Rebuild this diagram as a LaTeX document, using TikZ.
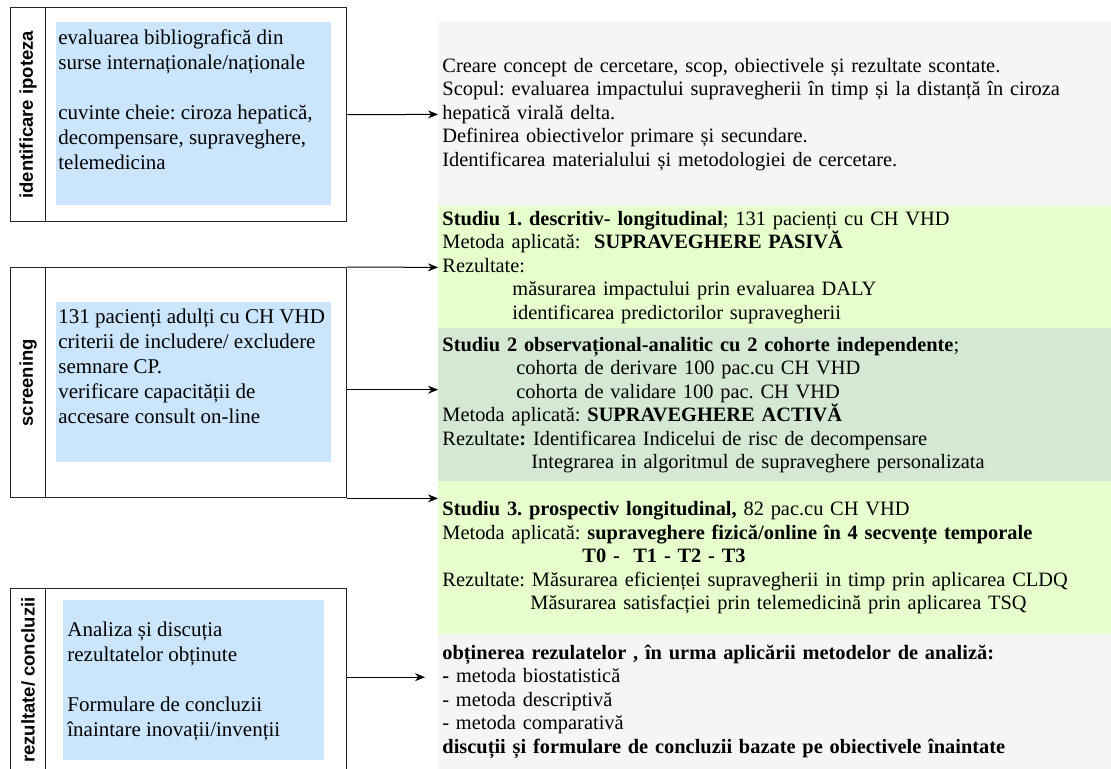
\documentclass[tikz,border=0pt]{standalone}
\usepackage{fontspec}
\setmainfont{Liberation Serif}
\newfontfamily\lblfont{Liberation Sans}
\usetikzlibrary{arrows.meta, positioning}
\frenchspacing

\definecolor{boxblue}{HTML}{CCE5FF}
\definecolor{boxgray}{HTML}{F5F5F5}
\definecolor{boxgreen}{HTML}{E6FFCC}
\definecolor{boxsage}{HTML}{D5E8D4}

\tikzset{
  frame/.style={draw=black!85, line width=0.7pt, inner sep=0pt, anchor=north west},
  lbl/.style={rotate=90, font=\lblfont\bfseries\fontsize{9.25}{11}\selectfont},
  bluebox/.style={fill=boxblue, inner sep=0pt, anchor=north west},
  bluetxt/.style={anchor=north west, inner sep=0pt, align=left, font=\fontsize{10.5}{12.5}\selectfont},
  stage/.style={anchor=north west, inner xsep=2pt, inner ysep=0pt, text width=332.5pt, align=left, font=\fontsize{10.2}{11.75}\selectfont},
  link/.style={-{Stealth[length=5pt,width=4pt]}, line width=0.5pt}
}

\begin{document}
\begin{tikzpicture}[x=0.5pt, y=-0.5pt]
	\useasboundingbox (0,0) rectangle (1111,769);

	% left column
	\node[frame, minimum width=17.5pt, minimum height=107pt] (ipotezaStrip) at (10,7) {};
	\node[frame, minimum width=150.5pt, minimum height=107pt] (ipoteza) at (45,7) {};
	\node[lbl] (ipotezaLbl) at (ipotezaStrip.center) {identificare ipoteza};
	\node[bluebox, minimum width=137.5pt, minimum height=91.5pt] (ipotezaBg) at (56,22) {};
	\node[bluetxt] (ipotezaTxt) at (58,29) {evaluarea bibliografică din\\ surse internaționale/naționale\\[12.5pt] cuvinte cheie: ciroza hepatică,\\ decompensare, supraveghere,\\ telemedicina};

	\node[frame, minimum width=17.5pt, minimum height=115pt] (screeningStrip) at (10,267) {};
	\node[frame, minimum width=150.5pt, minimum height=115pt] (screening) at (45,267) {};
	\node[lbl] (screeningLbl) at (screeningStrip.center) {screening};
	\node[bluebox, minimum width=137.5pt, minimum height=80pt] (screeningBg) at (56,302) {};
	\node[bluetxt] (screeningTxt) at (58,309) {131 pacienți adulți cu CH VHD\\ criterii de includere/ excludere\\ semnare CP.\\ verificare capacității de\\ accesare consult on-line};

	\node[frame, minimum width=17.5pt, minimum height=91.5pt] (concluziiStrip) at (10,588) {};
	\node[frame, minimum width=150.5pt, minimum height=91.5pt] (concluzii) at (45,588) {};
	\node[lbl] (concluziiLbl) at (concluziiStrip.center) {rezultate/ concluzii};
	\node[bluebox, minimum width=130.5pt, minimum height=80pt] (concluziiBg) at (63,600) {};
	\node[bluetxt] (concluziiTxt) at (67,622) {Analiza și discuția\\ rezultatelor obținute\\[12.5pt] Formulare de concluzii\\ înaintare inovații/invenții};

	% right column
	\node[stage, fill=boxgray, minimum height=92pt] (concept) at (438,22) {Creare concept de cercetare, scop, obiectivele și rezultate scontate.\\ Scopul: evaluarea impactului supravegherii în timp și la distanță în ciroza\\ hepatică virală delta.\\ Definirea obiectivelor primare și secundare.\\ Identificarea materialului și metodologiei de cercetare.};
	\node[stage, fill=boxgreen, minimum height=61pt] (studiu1) at (438,206) {\textbf{Studiu 1. descritiv- longitudinal}; 131 pacienți cu CH VHD\\ Metoda aplicată:\ \ \textbf{SUPRAVEGHERE PASIVĂ}\\ Rezultate:\\ \hspace*{35pt}măsurarea impactului prin evaluarea DALY\\ \hspace*{35pt}identificarea predictorilor supravegherii};
	\node[stage, fill=boxsage, minimum height=76.5pt] (studiu2) at (438,328) {\textbf{Studiu 2 observațional-analitic cu 2 cohorte independente};\\ \hspace*{37pt}cohorta de derivare 100 pac.cu CH VHD\\ \hspace*{37pt}cohorta de validare 100 pac. CH VHD\\ Metoda aplicată: \textbf{SUPRAVEGHERE ACTIVĂ}\\ Rezultate\textbf{:} Identificarea Indicelui de risc de decompensare\\ \hspace*{44.5pt}Integrarea in algoritmul de supraveghere personalizata};
	\node[stage, fill=boxgreen, minimum height=76.5pt] (studiu3) at (438,481) {\textbf{Studiu 3. prospectiv longitudinal,} 82 pac.cu CH VHD\\ Metoda aplicată: \textbf{supraveghere fizică/online în 4 secvențe temporale}\\ \hspace*{70pt}\textbf{T0 -\ \ T1 - T2 - T3}\\ Rezultate: Măsurarea eficienței supravegherii in timp prin aplicarea CLDQ\\ \hspace*{44pt}Măsurarea satisfacției prin telemedicină prin aplicarea TSQ};
	\node[stage, fill=boxgray, minimum height=67.5pt] (analiza) at (438,634) {\textbf{obținerea rezulatelor , în urma aplicării metodelor de analiză:}\\ \textbf{-} metoda biostatistică\\ - metoda descriptivă\\ - metoda comparativă\\ \textbf{discuții și formulare de concluzii bazate pe obiectivele înaintate}};

	% connectors
	\draw[link] (ipoteza.east) -- (concept.west);
	\draw[link] (screening.north east) -- (studiu1.west);
	\draw[link] ([yshift=-3.5pt]screening.east) -- ([yshift=-3.5pt]screening.east -| studiu2.west);
	\draw[link] (screening.south east) -- (screening.south east -| studiu3.west);
	\draw[link, shorten >=6.5pt] ([yshift=1.5pt]concluzii.east) -- ([yshift=1.5pt]concluzii.east -| analiza.west);
\end{tikzpicture}
\end{document}
